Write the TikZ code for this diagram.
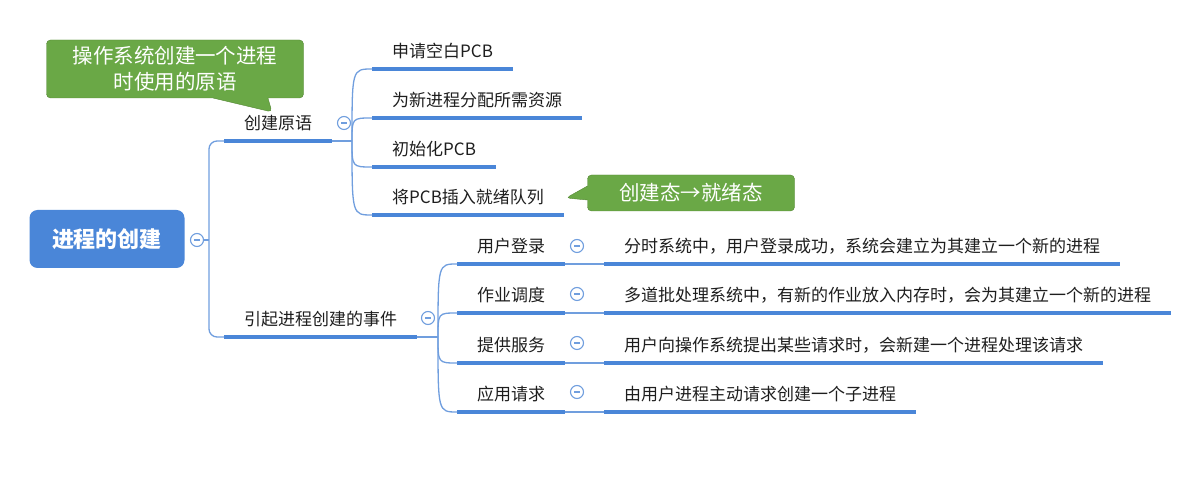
\documentclass[tikz,border=0pt]{standalone}
\usepackage{fontspec}
\setmainfont{Noto Sans CJK SC}
\usetikzlibrary{shapes.callouts}
\definecolor{mblue}{RGB}{74,134,216}
\definecolor{lblue}{RGB}{112,158,222}
\definecolor{cgreen}{RGB}{106,168,70}
\definecolor{dgreen}{RGB}{84,134,52}
\definecolor{ink}{RGB}{30,30,30}
\begin{document}
\begin{tikzpicture}[x=1pt,y=-1pt,
  root/.style={fill=mblue,rounded corners=8pt,minimum width=155pt,minimum height=58pt,text=white,font=\fontsize{22}{26}\selectfont\bfseries},
  topic/.style={anchor=south west,inner xsep=20pt,inner ysep=8pt,text height=12pt,text depth=3pt,text=ink,font=\fontsize{17}{20}\selectfont},
  uline/.style={mblue,line width=4pt},
  conn/.style={lblue,line width=1.3pt},
  fold/.style={circle,draw=lblue,fill=white,line width=1.1pt,minimum size=13pt,inner sep=0pt,
    path picture={\draw[lblue,line width=1.1pt] ([xshift=-3pt]path picture bounding box.center) -- ([xshift=3pt]path picture bounding box.center);}},
  note/.style={rectangle callout,fill=cgreen,draw=dgreen,rounded corners=4pt,inner sep=0pt,text=white,align=center,font=\fontsize{20.5}{26}\selectfont}]
\useasboundingbox (0,0) rectangle (1179,486);
\node[root] (root) at (107,239) {进程的创建};
\node[fold] (f0) at (197,240) {};
\node[topic] (t1) at (224,141) {创建原语};
\node[topic] (t2) at (224,337) {引起进程创建的事件};
\node[fold] (f1) at (344,123) {};
\node[fold] (f2) at (428,318) {};
\foreach \n/\y/\txt in {c1/69/申请空白PCB, c2/118/为新进程分配所需资源, c3/167/初始化PCB, c4/215/将PCB插入就绪队列}
  \node[topic] (\n) at (372,\y) {\txt};
\foreach \n/\y/\txt in {e1/264/用户登录, e2/313/作业调度, e3/363/提供服务, e4/412/应用请求}
  \node[topic] (\n) at (457,\y) {\txt};
\foreach \n/\y/\txt in {d1/264/分时系统中，用户登录成功，系统会建立为其建立一个新的进程,
  d2/313/多道批处理系统中，有新的作业放入内存时，会为其建立一个新的进程,
  d3/363/用户向操作系统提出某些请求时，会新建一个进程处理该请求,
  d4/412/由用户进程主动请求创建一个子进程}
  \node[topic] (\n) at (604,\y) {\txt};
\foreach \n/\y in {g1/246, g2/294, g3/343, g4/392}
  \node[fold] (\n) at (577,\y) {};
\foreach \n in {t1,t2,c1,c2,c3,c4,e1,e2,e3,e4,d1,d2,d3,d4}
  \draw[uline] (\n.south west) -- (\n.south east);
\coordinate (j0) at (209,240);
\coordinate (j1) at (352,141);
\coordinate (j2) at (438,337);
\draw[conn] (f0.east) -- (j0);
\draw[conn,rounded corners=8pt] (j0) |- (t1.south west);
\draw[conn,rounded corners=8pt] (j0) |- (t2.south west);
\draw[conn] (t1.south east) -- (j1);
\draw[conn] (t2.south east) -- (j2);
\foreach \n in {c1,c2,c3,c4}
  \draw[conn] (j1) .. controls (j1 |- \n.south west) and (j1 |- \n.south west) .. (\n.south west);
\foreach \n in {e1,e2,e3,e4}
  \draw[conn] (j2) .. controls (j2 |- \n.south west) and (j2 |- \n.south west) .. (\n.south west);
\foreach \a/\b in {e1/d1, e2/d2, e3/d3, e4/d4}
  \draw[conn] (\a.south east) -- (\b.south west);
\coordinate (tip1) at (272,112);
\coordinate (tip2) at (566,198);
\node[note,minimum width=257pt,minimum height=58pt,callout absolute pointer=(tip1),callout pointer width=55pt] (n1) at (175,69) {操作系统创建一个进程\\时使用的原语};
\node[note,minimum width=207pt,minimum height=36pt,callout absolute pointer=(tip2),callout pointer width=14pt] (n2) at (691,193) {创建态→就绪态};
\end{tikzpicture}
\end{document}
